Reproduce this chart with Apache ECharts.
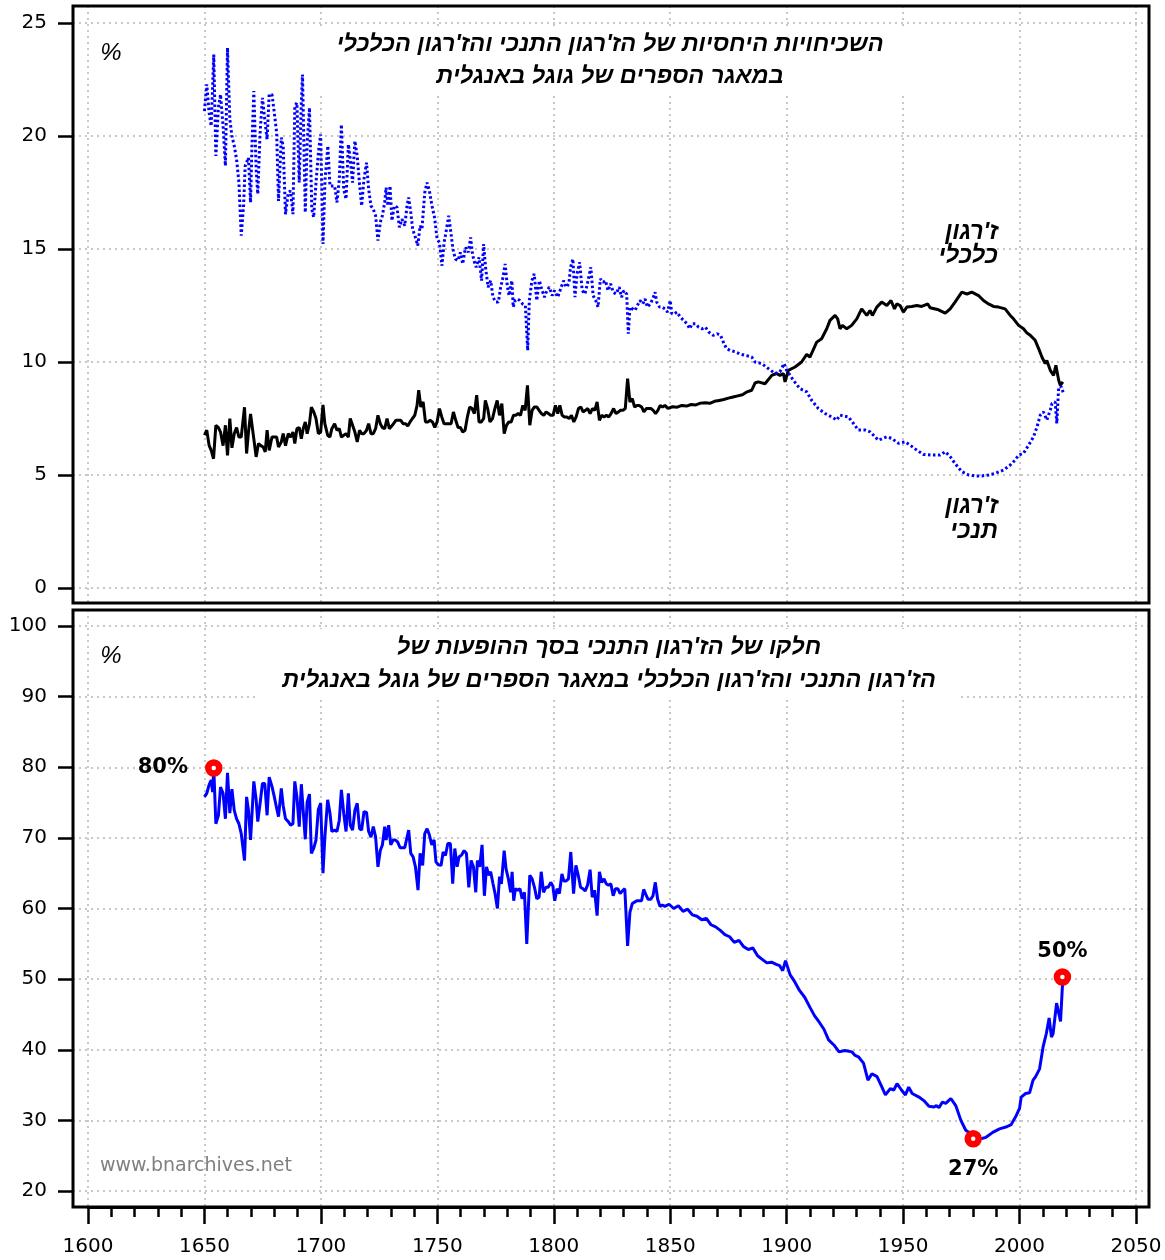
<!DOCTYPE html>
<html>
<head>
<meta charset="utf-8">
<script src="https://cdn.jsdelivr.net/npm/echarts@6/dist/echarts.min.js"></script>
<style>
  html, body { margin: 0; padding: 0; background: #fff; }
  #chart { width: 1165px; height: 1260px; }
</style>
</head>
<body>
<div id="chart"></div>
<script>
// economic jargon, % (top panel, black)
const econYears = [1650.0,1651.0,1652.0,1652.9,1653.9,1654.9,1656.0,1656.9,1658.0,1659.0,1659.9,1660.9,1661.8,1662.8,1663.8,1664.8,1665.8,1667.2,1668.1,1668.9,1669.8,1671.2,1672.2,1673.2,1674.2,1675.2,1676.1,1676.9,1677.8,1679.0,1680.0,1681.0,1681.8,1683.0,1683.8,1684.8,1686.0,1687.0,1688.0,1688.8,1689.7,1690.7,1691.6,1692.4,1693.3,1694.1,1695.1,1695.9,1696.9,1697.9,1698.9,1699.9,1700.9,1701.7,1702.9,1703.9,1704.7,1705.9,1706.9,1707.9,1708.8,1709.8,1710.8,1711.8,1712.6,1713.6,1714.6,1715.6,1716.6,1717.5,1718.5,1719.6,1720.5,1721.5,1722.5,1723.5,1724.5,1725.5,1726.4,1727.4,1728.4,1729.4,1730.2,1731.2,1732.2,1733.3,1734.3,1735.3,1736.3,1737.3,1738.3,1739.3,1740.3,1741.3,1742.0,1742.9,1743.9,1744.9,1745.9,1746.9,1747.9,1748.9,1749.9,1750.9,1751.9,1752.9,1753.9,1754.9,1755.9,1756.9,1757.9,1758.9,1759.9,1760.9,1761.9,1762.9,1763.9,1764.9,1765.9,1766.9,1767.9,1768.9,1769.9,1770.6,1771.6,1772.6,1773.7,1774.7,1775.7,1776.7,1777.7,1778.7,1779.7,1780.7,1781.7,1782.7,1783.7,1784.7,1785.7,1786.7,1787.7,1788.7,1789.7,1790.7,1791.7,1792.7,1793.7,1794.7,1795.7,1796.7,1797.7,1798.7,1799.7,1800.7,1801.7,1802.6,1803.6,1804.6,1805.6,1806.6,1807.6,1808.6,1809.6,1810.6,1811.6,1812.6,1813.6,1814.6,1815.6,1816.6,1817.6,1818.6,1819.6,1820.6,1821.6,1822.6,1823.6,1824.6,1825.7,1826.7,1827.7,1828.7,1829.7,1830.7,1831.7,1832.7,1833.7,1834.7,1835.7,1836.7,1837.7,1838.7,1839.7,1840.7,1841.7,1842.7,1843.7,1844.7,1845.7,1846.7,1847.7,1849,1851,1853,1855,1857,1859,1861,1863,1865,1867,1869,1871,1873,1875,1877,1879,1881,1883,1885.0,1886.4,1887.8,1890.7,1893.6,1895.7,1897.1,1898.6,1899.3,1900.7,1903.6,1906.4,1908.6,1910.0,1912.9,1915.0,1917.2,1918.6,1920.8,1921.9,1922.9,1923.9,1925.8,1927.9,1930.1,1932.2,1934.4,1935.8,1936.8,1938.7,1940.8,1943.0,1944.8,1946.3,1947.3,1948.7,1950.1,1951.6,1953.7,1955.9,1958.0,1960.6,1961.6,1965.2,1968.1,1970.2,1972.3,1975.2,1977.4,1979.5,1982.4,1984.5,1986.7,1988.8,1991.0,1993.8,1996.0,1997.4,1999.6,2001.7,2003.2,2004.6,2006.7,2008.2,2009.6,2011.0,2011.7,2013.2,2014.6,2015.6,2016.8,2017.5,2018.6];
const econPct = [6.76,6.98,6.31,6.09,5.72,7.2,7.1,6.9,6.3,7.2,5.87,7.5,6.2,6.83,7.1,6.68,6.68,8.0,5.95,6.9,7.7,6.6,5.8,6.39,6.3,6.24,6.02,6.98,6.09,6.68,6.68,6.68,6.24,6.46,6.83,6.3,6.83,6.68,6.9,6.39,7.05,7.1,6.6,7.05,7.35,6.83,7.27,8.0,7.8,7.5,6.83,6.9,8.1,7.27,6.76,6.68,7.05,7.27,6.98,7.05,6.68,6.76,6.83,6.68,7.5,7.2,6.9,6.46,6.98,6.83,6.83,6.98,7.27,6.83,6.83,7.05,7.64,7.27,7.1,7.05,7.5,7.05,7.1,7.27,7.42,7.42,7.42,7.27,7.27,7.17,7.35,7.5,7.64,8.08,8.75,8.01,8.23,7.35,7.35,7.42,7.35,7.1,7.35,7.94,7.57,7.27,7.27,7.27,7.27,7.79,7.42,7.1,7.1,6.9,6.98,7.57,8.01,7.94,7.72,8.53,7.35,7.35,7.5,8.3,7.94,7.35,7.5,7.94,8.3,7.64,8.16,6.83,7.2,7.35,7.35,7.64,7.64,7.72,7.64,8.08,7.86,8.97,7.2,7.86,8.01,8.01,7.86,7.72,7.64,7.79,7.72,7.64,7.64,8.08,7.72,8.08,7.64,7.57,7.57,7.5,7.64,7.35,7.57,7.94,8.01,7.79,7.86,7.94,7.72,7.94,7.86,8.23,7.42,7.64,7.57,7.64,7.57,7.72,7.94,7.72,7.79,7.86,7.86,7.94,9.26,8.23,8.38,8.01,8.08,8.08,8.01,7.79,7.94,7.94,7.94,7.86,7.72,7.86,8.08,8.01,8.08,7.95,8.02,8.0,8.08,8.05,8.12,8.1,8.18,8.2,8.17,8.26,8.3,8.34,8.4,8.45,8.5,8.55,8.68,8.75,9.07,9.12,9.04,9.41,9.49,9.41,9.49,9.12,9.63,9.78,10.0,10.34,10.22,10.88,11.03,11.47,11.84,12.06,11.91,11.47,11.62,11.47,11.62,11.91,12.35,12.06,12.28,12.06,12.43,12.65,12.5,12.72,12.35,12.57,12.5,12.21,12.43,12.46,12.5,12.46,12.57,12.4,12.31,12.16,12.35,12.65,13.09,13.01,13.09,12.94,12.72,12.57,12.46,12.43,12.35,12.06,11.91,11.62,11.47,11.28,11.18,10.96,10.59,10.22,9.93,10.07,9.63,9.41,9.85,9.19,8.97,9.12];

// biblical jargon, % (top panel, blue dotted)
const bibleYears = [1650.0,1651.0,1652.0,1652.9,1654.0,1654.9,1656.0,1656.9,1658.0,1659.0,1659.9,1660.9,1661.8,1662.8,1663.8,1664.8,1665.8,1666.8,1667.5,1668.9,1669.8,1670.4,1671.2,1672.2,1672.9,1673.9,1674.9,1675.9,1676.9,1677.8,1679.0,1680.0,1681.0,1681.8,1683.0,1683.8,1684.8,1686.0,1687.0,1688.0,1688.8,1689.7,1690.7,1691.6,1692.1,1693.3,1694.1,1695.1,1696.1,1696.9,1697.9,1699.0,1699.9,1700.9,1701.8,1703.0,1703.9,1704.7,1705.9,1706.9,1707.9,1708.8,1709.8,1710.8,1711.8,1712.6,1713.6,1714.6,1715.6,1716.6,1717.5,1718.5,1719.6,1720.5,1721.5,1722.5,1723.5,1724.5,1725.5,1726.4,1727.4,1728.0,1728.8,1729.7,1730.5,1731.5,1732.7,1733.7,1734.8,1736.0,1737.0,1737.7,1738.6,1739.4,1740.6,1741.6,1742.6,1743.4,1744.6,1745.6,1746.6,1747.7,1748.8,1749.9,1750.9,1752.0,1752.9,1753.7,1754.9,1755.7,1756.7,1757.7,1758.9,1759.9,1760.9,1762.1,1763.3,1764.3,1765.0,1765.7,1766.7,1767.9,1769.0,1769.9,1770.7,1771.8,1772.9,1773.9,1775.1,1776.2,1777.2,1778.2,1779.1,1780.1,1780.8,1782.0,1782.6,1783.4,1784.4,1785.4,1786.6,1787.8,1788.8,1789.5,1790.6,1791.6,1792.7,1793.8,1795.0,1796.0,1797.0,1798.1,1799.3,1800.3,1801.7,1803.2,1804.2,1805.3,1806.5,1807.2,1808.2,1809.1,1810.0,1811.1,1812.2,1813.4,1814.7,1815.9,1816.9,1818.0,1819.0,1820.0,1821.2,1822.2,1823.3,1824.4,1825.5,1826.7,1828.1,1829.1,1830.1,1831.3,1832.0,1832.7,1833.9,1834.9,1835.9,1837.0,1838.2,1839.2,1840.2,1841.4,1842.5,1843.5,1844.2,1845.4,1846.4,1847.8,1848.8,1850.0,1850.7,1851.7,1852.9,1854.3,1855.8,1857.2,1858.4,1859.4,1860.8,1862.2,1863.7,1865.1,1866.6,1868.4,1870.2,1871.6,1873.1,1874.2,1876,1878,1880,1882,1885.0,1886.4,1889.3,1892.1,1895.0,1897.1,1898.9,1900.0,1902.9,1905.7,1908.6,1910.7,1913.6,1916.5,1919.3,1921.5,1922.9,1926.5,1928.7,1930.8,1933.7,1935.8,1939.4,1943.0,1945.1,1948.0,1950.9,1953.0,1955.9,1958.7,1962.3,1965.9,1968.1,1970.2,1972.3,1975.2,1978.1,1980.9,1983.8,1986.7,1989.5,1993.1,1996.0,1998.1,1999.6,2001.7,2003.9,2006.0,2007.5,2008.9,2010.3,2011.7,2013.2,2013.9,2015.3,2016.0,2016.8,2017.9,2018.9];
const biblePct = [21.1,22.28,21.03,20.44,23.6,19.12,21.25,21.84,20.44,18.68,23.9,20.74,20.0,19.56,18.97,17.94,15.59,16.91,18.68,19.04,17.06,19.56,21.99,18.53,17.43,20.15,21.69,20.74,19.85,21.84,21.84,21.03,20.15,17.13,19.93,19.56,16.54,17.5,17.57,16.54,21.32,21.47,17.94,21.47,22.72,16.62,19.71,21.25,16.76,16.4,17.94,19.34,20.07,15.22,18.09,19.56,17.79,17.72,17.79,17.06,18.09,20.51,17.65,17.21,19.63,18.97,17.94,19.78,19.12,17.87,16.91,18.09,18.82,17.65,16.91,16.76,16.47,15.37,16.18,16.47,17.06,17.72,16.91,17.79,16.25,16.91,16.84,15.96,16.32,16.03,16.91,17.28,16.62,15.88,15.51,15.15,16.03,15.88,17.5,17.94,17.57,16.91,16.4,15.44,15.29,14.26,15.29,15.74,16.47,16.4,15.0,14.56,14.49,14.85,14.34,15.07,14.85,15.51,14.85,14.49,14.19,14.63,13.6,15.22,14.19,13.31,13.6,12.87,12.65,12.65,13.31,13.75,14.34,13.31,12.94,13.6,12.43,12.72,12.79,12.72,12.57,12.5,10.51,12.72,13.6,13.9,12.72,13.6,13.16,12.87,13.16,13.31,12.94,13.16,12.87,13.31,13.6,13.31,13.46,14.19,14.56,12.87,13.9,14.41,13.16,13.01,13.6,14.19,12.94,12.72,12.43,13.68,13.53,13.6,13.16,13.46,13.09,13.01,13.31,12.87,13.16,13.01,11.25,12.43,12.35,12.28,12.5,12.72,12.57,12.79,12.43,12.57,12.79,13.09,12.65,12.43,12.43,12.35,12.21,12.72,12.13,12.13,12.21,11.99,11.84,11.69,11.47,11.69,11.69,11.54,11.47,11.54,11.32,11.18,11.25,11.18,10.81,10.59,10.5,10.45,10.35,10.3,10.22,10.0,9.93,9.71,9.49,9.56,9.93,9.63,9.19,8.82,8.68,8.31,7.94,7.72,7.57,7.43,7.65,7.57,7.28,6.99,6.99,6.91,6.54,6.69,6.62,6.4,6.47,6.32,6.1,5.91,5.88,5.88,6.03,5.81,5.51,5.15,5.0,4.96,4.96,5.0,5.07,5.22,5.44,5.66,5.88,5.96,6.32,6.69,7.13,7.65,7.79,7.43,7.87,8.16,8.24,7.28,8.9,8.9,8.6];

// biblical share of (biblical + economic), % (bottom panel)
const shareYears = [1650.0,1651.0,1652.0,1652.9,1653.5,1654.0,1654.9,1656.0,1656.9,1658.0,1659.0,1659.9,1660.9,1661.8,1662.8,1663.8,1664.8,1665.8,1667.2,1668.1,1668.9,1669.8,1670.4,1671.2,1672.2,1672.9,1673.9,1674.9,1675.9,1676.9,1677.8,1679.0,1680.0,1681.0,1681.8,1683.0,1683.8,1684.8,1686.0,1687.0,1688.0,1688.8,1689.7,1690.7,1691.6,1692.4,1693.3,1694.1,1695.1,1695.9,1696.9,1697.9,1698.9,1699.9,1700.9,1701.7,1702.9,1703.9,1704.7,1705.9,1706.9,1707.9,1708.8,1709.8,1710.8,1711.8,1712.6,1713.6,1714.6,1715.6,1716.6,1717.5,1718.5,1719.6,1720.5,1721.5,1722.5,1723.5,1724.5,1725.5,1726.4,1727.4,1728.0,1729.1,1730.0,1731.0,1732.0,1733.0,1734.0,1735.0,1736.0,1737.0,1737.7,1738.6,1739.6,1740.6,1741.7,1742.6,1743.7,1744.6,1745.6,1746.6,1747.6,1748.6,1749.4,1750.4,1751.6,1752.5,1753.5,1754.5,1755.6,1756.6,1757.5,1758.5,1759.3,1760.5,1761.5,1762.5,1763.5,1764.5,1765.5,1766.5,1767.2,1768.2,1769.2,1770.2,1771.1,1772.1,1772.9,1773.9,1774.8,1775.8,1776.7,1777.5,1778.7,1779.5,1780.5,1781.5,1782.1,1782.8,1783.5,1784.5,1785.5,1786.4,1787.4,1788.4,1789.7,1790.7,1791.7,1792.7,1793.7,1794.6,1795.6,1796.6,1797.6,1798.7,1799.6,1800.4,1801.4,1802.4,1803.5,1804.3,1805.3,1806.3,1807.3,1808.5,1809.5,1810.5,1811.5,1812.5,1813.5,1814.5,1815.6,1816.5,1817.5,1818.6,1819.6,1820.6,1821.6,1822.5,1823.5,1824.5,1825.5,1826.5,1827.5,1828.5,1829.5,1830.5,1831.7,1832.7,1833.7,1834.7,1835.7,1836.7,1837.7,1838.6,1839.5,1840.5,1841.6,1842.6,1843.6,1844.6,1845.6,1846.6,1847.7,1849.5,1851.5,1853.5,1855.5,1857.5,1859.5,1861.5,1863.5,1865.5,1867.5,1869.5,1871.5,1873.5,1875.5,1877.5,1879.5,1881.5,1883.5,1885.5,1887.5,1889.5,1891.5,1893.5,1895.5,1897.0,1898.3,1899.5,1901.5,1903.5,1905.5,1907.8,1910,1912,1914,1916,1918,1920.5,1922.5,1925,1928,1929.4,1930.8,1933,1934.9,1936.6,1938.8,1940.9,1942.4,1944.5,1946,1947.4,1949.3,1951,1952.4,1953.9,1956.8,1958.9,1961.1,1963.3,1964.3,1965.4,1966.9,1968.3,1970.5,1972.6,1974.8,1976.9,1980.1,1983.4,1985.6,1988.5,1991.4,1994.5,1996.4,1998.6,2000,2000.7,2002.6,2004.3,2005.8,2006.9,2008.6,2010.1,2011.5,2012.7,2013.7,2014.4,2015.9,2016.6,2017.6,2018.4,2019.5];
const sharePct = [75.8,76.3,77.5,78.2,76.5,79.9,72.0,73.2,77.2,76.3,72.7,79.2,73.5,76.9,73.9,72.7,72.0,70.6,66.8,75.8,73.9,69.7,69.7,78.0,75.4,72.3,74.9,77.7,77.7,73.2,78.6,77.3,75.8,74.2,73.0,77.0,74.6,72.7,72.3,71.8,72.0,78.0,75.8,71.6,77.6,77.6,69.8,75.1,76.2,67.8,68.5,69.7,74.0,74.9,65.0,70.1,75.4,73.5,70.9,71.1,70.9,72.5,76.8,73.5,70.9,76.3,71.8,71.1,73.9,74.9,71.3,71.1,73.7,73.6,70.9,70.1,71.6,70.1,65.9,68.2,69.0,71.6,69.7,71.8,69.0,69.7,69.7,69.4,68.6,68.6,68.6,70.1,71.1,67.8,67.3,65.9,62.6,67.8,66.1,70.6,71.3,70.4,69.0,69.7,66.6,66.2,66.1,68.0,67.5,69.2,69.2,63.5,68.5,65.9,67.3,67.6,68.2,67.8,63.0,66.8,65.9,62.3,66.8,65.9,69.0,61.8,65.9,64.7,65.2,63.5,62.1,60.0,64.5,63.5,68.2,65.6,64.2,62.3,65.2,61.1,62.8,62.6,62.8,61.4,62.3,55.0,64.7,64.2,63.0,61.4,61.6,65.2,62.3,63.0,63.0,63.7,63.2,61.1,62.8,62.1,64.9,63.9,63.9,64.2,68.0,62.1,66.1,64.7,63.0,62.8,62.5,63.3,65.5,61.6,62.6,59.0,65.2,63.7,64.2,63.5,63.3,63.5,61.8,62.8,62.8,62.1,62.5,62.8,54.7,59.5,60.7,60.9,61.1,61.1,61.1,62.7,62.0,61.3,61.3,61.8,63.7,61.3,60.3,60.5,60.3,60.6,60.0,60.4,59.6,59.9,59.1,58.9,58.4,58.6,57.7,57.4,56.9,56.3,56.0,55.2,55.5,54.6,54.2,54.4,53.3,52.8,52.3,52.4,52.1,51.9,51.2,52.6,50.6,49.6,48.4,47.4,46.0,44.8,43.9,42.9,41.4,40.6,39.7,39.9,39.7,39.2,39.0,38.1,35.7,36.6,36.2,34.7,33.6,34.5,34.3,35.2,34.3,33.6,34.7,33.8,33.3,32.8,32.0,31.9,32.1,31.8,32.6,32.4,33.1,32.1,30.0,28.6,27.9,27.4,27.6,28.3,28.8,29.1,29.4,30.7,31.7,33.3,33.8,33.9,35.7,36.2,37.3,40.4,42.3,44.5,41.8,42.3,46.6,46.8,44.0,49.0,50.3,48.6];

// highlighted points on the bottom line
const markYears = [1654.0, 1980.1, 2018.4];
const markPct = [79.9, 27.4, 50.3];
const markText = ['80%', '27%', '50%'];
const markPos = ['left', 'bottom', 'top'];
const markDist = [17, 12, 6];

function zip(xs, ys) {
  return xs.map(function (x, i) { return [x, ys[i]]; });
}

// layout (pixels)
const FRAME_L = 73, FRAME_R = 1149;
const X1600 = 88, X2050 = 1136;
const pxYear = (X2050 - X1600) / 450;
const fullMin = 1600 - (X1600 - FRAME_L) / pxYear;
const fullMax = 2050 + (FRAME_R - X2050) / pxYear;

const numFont = 'DejaVu Sans';
const hebFont = '"Liberation Sans", "DejaVu Sans", sans-serif';
const dots = { color: '#c8c8c8', width: 2, type: [2, 4] };
const tickStyle = { color: '#000', width: 2.5 };

const chart = echarts.init(document.getElementById('chart'));

const option = {
  animation: false,
  backgroundColor: '#fff',
  grid: [
    { left: FRAME_L, width: FRAME_R - FRAME_L, top: 23, height: 565 },
    { left: X1600, width: X2050 - X1600, top: 6, height: 597 },
    { left: FRAME_L, width: FRAME_R - FRAME_L, top: 626, height: 565 },
    { left: X1600, width: X2050 - X1600, top: 610, height: 597 }
  ],
  xAxis: [
    { gridIndex: 0, type: 'value', min: fullMin, max: fullMax, show: false },
    {
      gridIndex: 1, type: 'value', min: 1600, max: 2050, interval: 50,
      axisLine: { show: false }, axisTick: { show: false }, axisLabel: { show: false },
      splitLine: { show: true, lineStyle: dots }
    },
    { gridIndex: 2, type: 'value', min: fullMin, max: fullMax, show: false },
    {
      gridIndex: 3, type: 'value', min: 1600, max: 2050, interval: 50,
      axisLine: { show: true, lineStyle: { color: '#000', width: 3 } },
      axisTick: { show: true, length: 17, lineStyle: tickStyle },
      minorTick: { show: true, splitNumber: 5, length: 10, lineStyle: tickStyle },
      axisLabel: {
        margin: 30, color: '#000', fontSize: 20, fontFamily: numFont,
        formatter: function (v) { return String(v); }
      },
      splitLine: { show: true, lineStyle: dots }
    }
  ],
  yAxis: [
    {
      gridIndex: 0, type: 'value', min: 0, max: 25, interval: 5,
      axisLine: { show: false },
      axisTick: { show: true, length: 15, lineStyle: tickStyle },
      axisLabel: { margin: 26, color: '#000', fontSize: 20, fontFamily: numFont },
      splitLine: { show: true, lineStyle: dots }
    },
    { gridIndex: 1, type: 'value', min: 0, max: 1, show: false },
    {
      gridIndex: 2, type: 'value', min: 20, max: 100, interval: 10,
      axisLine: { show: false },
      axisTick: { show: true, length: 15, lineStyle: tickStyle },
      axisLabel: { margin: 26, color: '#000', fontSize: 20, fontFamily: numFont },
      splitLine: { show: true, lineStyle: dots }
    },
    { gridIndex: 3, type: 'value', min: 0, max: 1, show: false }
  ],
  series: [
    {
      name: 'econ', type: 'line', xAxisIndex: 0, yAxisIndex: 0,
      data: zip(econYears, econPct), showSymbol: false, z: 3,
      lineStyle: { color: '#000', width: 3 }
    },
    {
      name: 'bible', type: 'line', xAxisIndex: 0, yAxisIndex: 0,
      data: zip(bibleYears, biblePct), showSymbol: false, z: 4,
      lineStyle: { color: '#0000ff', width: 3, type: [2.5, 2.5] }
    },
    {
      name: 'share', type: 'line', xAxisIndex: 2, yAxisIndex: 2,
      data: zip(shareYears, sharePct), showSymbol: false, z: 3,
      lineStyle: { color: '#0000ff', width: 3 }
    },
    {
      name: 'marks', type: 'scatter', xAxisIndex: 2, yAxisIndex: 2, z: 5,
      symbol: 'circle', symbolSize: 11,
      itemStyle: { color: '#fff', borderColor: '#ff0000', borderWidth: 6.5, opacity: 1 },
      data: markYears.map(function (y, i) {
        return {
          value: [y, markPct[i]],
          label: { position: markPos[i], distance: markDist[i] }
        };
      }),
      label: {
        show: true, color: '#000', fontSize: 21, fontWeight: 'bold', fontFamily: numFont,
        formatter: function (p) { return markText[p.dataIndex]; }
      }
    }
  ],
  graphic: [
    {
      type: 'text', x: 610, y: 61, z: 50,
      style: {
        text: "השכיחויות היחסיות של הז'רגון התנכי והז'רגון הכלכלי\nבמאגר הספרים של גוגל באנגלית",
        font: 'italic bold 23.5px ' + hebFont, fill: '#000', align: 'center', verticalAlign: 'middle',
        lineHeight: 32, backgroundColor: '#fff', padding: [2, 25]
      }
    },
    {
      type: 'text', x: 609, y: 664, z: 50,
      style: {
        text: "חלקו של הז'רגון התנכי בסך ההופעות של\nהז'רגון התנכי והז'רגון הכלכלי במאגר הספרים של גוגל באנגלית",
        font: 'italic bold 23.5px ' + hebFont, fill: '#000', align: 'center', verticalAlign: 'middle',
        lineHeight: 33, backgroundColor: '#fff', padding: [2, 25]
      }
    },
    {
      type: 'text', x: 998, y: 244, z: 50,
      style: {
        text: "ז'רגון\nכלכלי", font: 'italic bold 24px ' + hebFont, fill: '#000',
        align: 'right', verticalAlign: 'middle', lineHeight: 24
      }
    },
    {
      type: 'text', x: 998, y: 519, z: 50,
      style: {
        text: "ז'רגון\nתנכי", font: 'italic bold 24px ' + hebFont, fill: '#000',
        align: 'right', verticalAlign: 'middle', lineHeight: 25
      }
    },
    {
      type: 'text', x: 111, y: 53, z: 50,
      style: { text: '%', font: 'italic 24px ' + hebFont, fill: '#000', align: 'center', verticalAlign: 'middle' }
    },
    {
      type: 'text', x: 111, y: 656, z: 50,
      style: { text: '%', font: 'italic 24px ' + hebFont, fill: '#000', align: 'center', verticalAlign: 'middle' }
    },
    {
      type: 'text', x: 100, y: 1166, z: 50,
      style: { text: 'www.bnarchives.net', font: '19px ' + numFont, fill: '#808080', align: 'left', verticalAlign: 'middle' }
    },
    {
      type: 'rect', z: 60,
      shape: { x: FRAME_L, y: 6, width: FRAME_R - FRAME_L, height: 597 },
      style: { fill: 'none', stroke: '#000', lineWidth: 3 }
    },
    {
      type: 'rect', z: 60,
      shape: { x: FRAME_L, y: 610, width: FRAME_R - FRAME_L, height: 597 },
      style: { fill: 'none', stroke: '#000', lineWidth: 3 }
    }
  ]
};

chart.setOption(option);
</script>
</body>
</html>
